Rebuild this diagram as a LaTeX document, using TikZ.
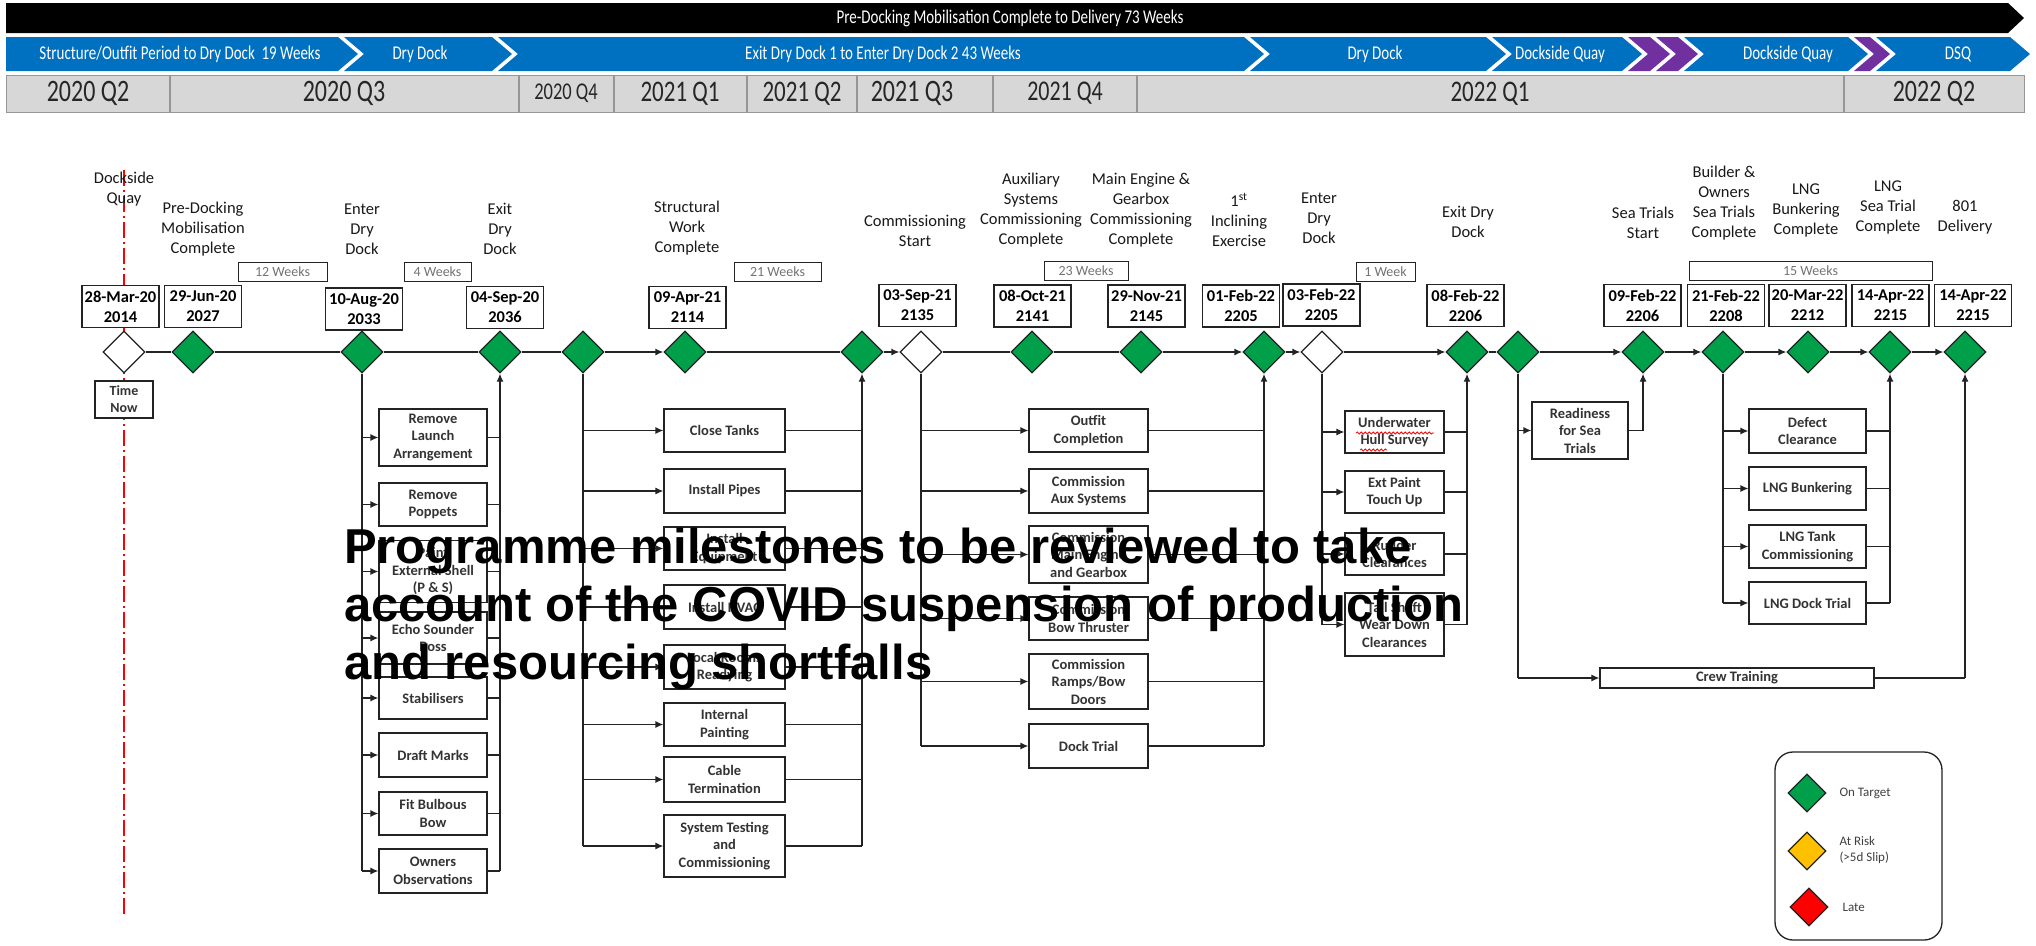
\documentclass[tikz,border=0pt]{standalone}
\usepackage{graphicx}
\usepackage{fontspec}
\setmainfont{Carlito}
\newfontfamily\covfont{Liberation Sans}
\usetikzlibrary{shapes.geometric,arrows.meta,decorations.pathmorphing}
\definecolor{msgreen}{RGB}{0,160,75}
\definecolor{msblue}{RGB}{0,112,192}
\definecolor{mspurple}{RGB}{112,48,160}
\definecolor{msyellow}{RGB}{255,192,0}
\definecolor{msred}{RGB}{255,0,0}
\definecolor{qgray}{RGB}{215,215,215}
\definecolor{qline}{RGB}{150,150,150}
\definecolor{ln}{RGB}{35,35,35}
\newcommand\vst[1]{\scalebox{1}[1.3]{#1}}
\begin{document}
\begin{tikzpicture}[x=1pt,y=-1pt,
  ms/.style={diamond,draw=ln,line width=1.3pt,fill=msgreen,minimum width=42pt,minimum height=42pt,inner sep=0pt},
  msw/.style={ms,fill=white},
  datebox/.style={draw=ln,line width=1.2pt,fill=white,minimum width=77pt,minimum height=42pt,inner sep=1pt,align=center,font=\fontsize{16.5}{20}\selectfont\bfseries},
  wkbox/.style={draw=ln,line width=1pt,fill=white,minimum height=19pt,inner sep=1pt,font=\fontsize{14}{16}\selectfont,text=black!55},
  lbl/.style={align=center,font=\fontsize{16.5}{20}\selectfont,text=black!90},
  task/.style={draw=ln,line width=1.2pt,fill=white,align=center,inner sep=1pt,font=\fontsize{14.5}{17.5}\selectfont\bfseries,text=black!80},
  ga/.style={task,minimum width=108pt},
  gb/.style={task,minimum width=121pt},
  gc/.style={task,minimum width=119pt},
  gd/.style={task,minimum width=99pt},
  ge/.style={task,minimum width=117pt},
  conn/.style={draw=ln,line width=1.3pt},
  arr/.style={conn,-{Latex[length=8pt,width=7pt]}},
  qtxt/.style={text=black!85},
  wtxt/.style={text=white,font=\fontsize{15}{17}\selectfont},
  lgd/.style={diamond,draw=ln,line width=1.3pt,minimum width=38pt,minimum height=38pt,inner sep=0pt},
  lgt/.style={anchor=west,align=left,font=\fontsize{13}{16}\selectfont,text=black!75},
  covid/.style={anchor=base west,inner sep=0pt,font=\covfont\bfseries\fontsize{49}{58}\selectfont,text=black}
]
\useasboundingbox (0,0) rectangle (2036,945);
\fill[white] (0,0) rectangle (2036,945);

% ---- top bars ----
\fill[black] (6,3) -- (2008,3) -- (2024,18) -- (2008,33) -- (6,33) -- cycle;
\node[wtxt] (topbar) at (1010,18) {\vst{Pre-Docking Mobilisation Complete to Delivery 73 Weeks}};

\fill[msblue] (6,37) -- (338,37) -- (358,54) -- (338,71) -- (6,71) -- cycle;
\fill[msblue] (344,37) -- (492,37) -- (512,54) -- (492,71) -- (344,71) -- (364,54) -- cycle;
\fill[msblue] (498,37) -- (1244,37) -- (1264,54) -- (1244,71) -- (498,71) -- (518,54) -- cycle;
\fill[msblue] (1250,37) -- (1486,37) -- (1506,54) -- (1486,71) -- (1250,71) -- (1270,54) -- cycle;
\fill[msblue] (1492,37) -- (1622,37) -- (1642,54) -- (1622,71) -- (1492,71) -- (1512,54) -- cycle;
\fill[mspurple] (1628,37) -- (1650,37) -- (1670,54) -- (1650,71) -- (1628,71) -- (1648,54) -- cycle;
\fill[mspurple] (1656,37) -- (1678,37) -- (1698,54) -- (1678,71) -- (1656,71) -- (1676,54) -- cycle;
\fill[msblue] (1684,37) -- (1848,37) -- (1868,54) -- (1848,71) -- (1684,71) -- (1704,54) -- cycle;
\fill[mspurple] (1854,37) -- (1870,37) -- (1890,54) -- (1870,71) -- (1854,71) -- (1874,54) -- cycle;
\fill[msblue] (1876,37) -- (2010,37) -- (2030,54) -- (2010,71) -- (1876,71) -- (1896,54) -- cycle;
\node[wtxt] (ph1) at (180,54) {\vst{Structure/Outfit Period to Dry Dock\ \ 19 Weeks}};
\node[wtxt] (ph2) at (420,54) {\vst{Dry Dock}};
\node[wtxt] (ph3) at (883,54) {\vst{Exit Dry Dock 1 to Enter Dry Dock 2 43 Weeks}};
\node[wtxt] (ph4) at (1375,54) {\vst{Dry Dock}};
\node[wtxt] (ph5) at (1560,54) {\vst{Dockside Quay}};
\node[wtxt] (ph6) at (1788,54) {\vst{Dockside Quay}};
\node[wtxt] (ph7) at (1958,54) {\vst{DSQ}};

% ---- quarters ----
\draw[qline,fill=qgray,line width=1pt] (6,75) rectangle (2024,112);
\foreach \x in {170,519,614,747,857,993,1137,1844} \draw[qline,line width=1.2pt] (\x,75) -- (\x,112);
\node[qtxt,font=\fontsize{24}{26}\selectfont] (q1) at (88,93.5) {\vst{2020 Q2}};
\node[qtxt,font=\fontsize{24}{26}\selectfont] (q2) at (344,93.5) {\vst{2020 Q3}};
\node[qtxt,font=\fontsize{18.5}{22}\selectfont] (q3) at (566,93.5) {\vst{2020 Q4}};
\node[qtxt,font=\fontsize{23}{26}\selectfont] (q4) at (680,93.5) {\vst{2021 Q1}};
\node[qtxt,font=\fontsize{23}{26}\selectfont] (q5) at (802,93.5) {\vst{2021 Q2}};
\node[qtxt,font=\fontsize{24}{26}\selectfont] (q6) at (912,93.5) {\vst{2021 Q3}};
\node[qtxt,font=\fontsize{22}{26}\selectfont] (q7) at (1065,93.5) {\vst{2021 Q4}};
\node[qtxt,font=\fontsize{23}{26}\selectfont] (q8) at (1490,93.5) {\vst{2022 Q1}};
\node[qtxt,font=\fontsize{24}{26}\selectfont] (q9) at (1934,93.5) {\vst{2022 Q2}};

% ---- time now line ----
\draw[msred,line width=1.6pt,dash pattern=on 16pt off 4pt on 2pt off 4pt] (124,170) -- (124,915);

% ---- milestone labels ----
\node[lbl] (l0) at (124,189) {Dockside\\Quay};
\node[lbl] (l1) at (203,229) {Pre-Docking\\Mobilisation\\Complete};
\node[lbl] (l2) at (362,229) {Enter\\Dry\\Dock};
\node[lbl] (l3) at (500,229) {Exit\\Dry\\Dock};
\node[lbl] (l5) at (687,228) {Structural\\Work\\Complete};
\node[lbl] (l7) at (915,230.5) {Commissioning\\Start};
\node[lbl] (l8) at (1031,210.5) {Auxiliary\\Systems\\Commissioning\\Complete};
\node[lbl] (l9) at (1141,210.5) {Main Engine \&\\Gearbox\\Commissioning\\Complete};
\node[lbl] (l10) at (1239,220) {1\textsuperscript{st}\\Inclining\\Exercise};
\node[lbl] (l11) at (1319,218) {Enter\\Dry\\Dock};
\node[lbl] (l12) at (1468,221.5) {Exit Dry\\Dock};
\node[lbl] (l14) at (1643,223) {Sea Trials\\Start};
\node[lbl] (l15) at (1724,203) {Builder \&\\Owners\\Sea Trials\\Complete};
\node[lbl] (l16) at (1806,210) {LNG\\Bunkering\\Complete};
\node[lbl] (l17) at (1888,207.5) {LNG\\Sea Trial\\Complete};
\node[lbl] (l18) at (1965,217) {801\\Delivery};

% ---- week boxes ----
\node[wkbox,minimum width=89pt] (w1) at (282.5,271.5) {12 Weeks};
\node[wkbox,minimum width=67pt] (w2) at (437.5,271.5) {4 Weeks};
\node[wkbox,minimum width=87pt] (w3) at (777.5,272) {21 Weeks};
\node[wkbox,minimum width=84pt] (w4) at (1086,271) {23 Weeks};
\node[wkbox,minimum width=59pt] (w5) at (1385.5,272) {1 Week};
\node[wkbox,minimum width=243pt] (w6) at (1810.5,271) {15 Weeks};

% ---- date boxes ----
\node[datebox] (b0) at (120.5,306.5) {28-Mar-20\\2014};
\node[datebox] (b1) at (203,306.5) {29-Jun-20\\2027};
\node[datebox] (b2) at (364,309) {10-Aug-20\\2033};
\node[datebox] (b3) at (505,307.5) {04-Sep-20\\2036};
\node[datebox] (b5) at (687.5,307.5) {09-Apr-21\\2114};
\node[datebox] (b7) at (917.5,305.5) {03-Sep-21\\2135};
\node[datebox] (b8) at (1032.5,306) {08-Oct-21\\2141};
\node[datebox] (b9) at (1146.5,306) {29-Nov-21\\2145};
\node[datebox] (b10) at (1241,306) {01-Feb-22\\2205};
\node[datebox] (b11) at (1321.5,305) {03-Feb-22\\2205};
\node[datebox] (b12) at (1465.5,305.5) {08-Feb-22\\2206};
\node[datebox] (b14) at (1642.5,305.5) {09-Feb-22\\2206};
\node[datebox] (b15) at (1726,305.5) {21-Feb-22\\2208};
\node[datebox] (b16) at (1807.5,305.5) {20-Mar-22\\2212};
\node[datebox] (b17) at (1890.5,305.5) {14-Apr-22\\2215};
\node[datebox] (b18) at (1973,305.5) {14-Apr-22\\2215};

% ---- diamonds ----
\node[msw] (d0) at (124,352) {};
\node[ms] (d1) at (193,352) {};
\node[ms] (d2) at (362,352) {};
\node[ms] (d3) at (500,352) {};
\node[ms] (d4) at (583,352) {};
\node[ms] (d5) at (685,352) {};
\node[ms] (d6) at (862,352) {};
\node[msw] (d7) at (921,352) {};
\node[ms] (d8) at (1032,352) {};
\node[ms] (d9) at (1141,352) {};
\node[ms] (d10) at (1264,352) {};
\node[msw] (d11) at (1322,352) {};
\node[ms] (d12) at (1467,352) {};
\node[ms] (d13) at (1518,352) {};
\node[ms] (d14) at (1643,352) {};
\node[ms] (d15) at (1723,352) {};
\node[ms] (d16) at (1808,352) {};
\node[ms] (d17) at (1890,352) {};
\node[ms] (d18) at (1965,352) {};

% main line
\foreach \a/\b in {d0/d1,d1/d2,d2/d3,d3/d4,d5/d6,d7/d8,d8/d9,d12/d13}
  \draw[conn] (\a.east) -- (\b.west);
\foreach \a/\b in {d4/d5,d6/d7,d9/d10,d10/d11,d11/d12,d13/d14,d14/d15,d15/d16,d16/d17,d17/d18}
  \draw[arr] (\a.east) -- (\b.west);

% time now
\node[draw=ln,line width=1.2pt,fill=white,minimum width=58pt,minimum height=37pt,align=center,inner sep=1pt,font=\fontsize{14}{17}\selectfont\bfseries,text=black!80] (tn) at (124,399.5) {Time\\Now};

% ---- group 1 ----
\node[ga,minimum height=57pt] (t1a) at (433,437.5) {Remove\\Launch\\Arrangement};
\node[ga,minimum height=43pt] (t1b) at (433,504.5) {Remove\\Poppets};
\node[ga,minimum height=62pt] (t1c) at (433,571.5) {Paint\\External Shell\\(P \& S)};
\node[ga,minimum height=52pt] (t1d) at (433,638) {Echo Sounder\\Boss};
\node[ga,minimum height=42pt] (t1e) at (433,698) {Stabilisers};
\node[ga,minimum height=44pt] (t1f) at (433,755) {Draft Marks};
\node[ga,minimum height=43pt] (t1g) at (433,813.5) {Fit Bulbous\\Bow};
\node[ga,minimum height=44pt] (t1h) at (433,871) {Owners\\Observations};
\draw[conn] (d2.south) -- (d2.south |- t1h.west);
\foreach \t in {t1a,t1b,t1c,t1d,t1e,t1f,t1g,t1h} {
  \draw[arr] (\t.west -| d2.south) -- (\t.west);
  \draw[conn] (\t.east) -- (\t.east -| d3.south);
}
\draw[arr] (t1h.east -| d3.south) -- (d3.south);

% ---- group 2 ----
\node[gb,minimum height=43pt] (t2a) at (724.5,430.5) {Close Tanks};
\node[gb,minimum height=44pt] (t2b) at (724.5,491) {Install Pipes};
\node[gb,minimum height=43pt] (t2c) at (724.5,548.5) {Install\\Equipment};
\node[gb,minimum height=44pt] (t2d) at (724.5,607) {Install HVAC};
\node[gb,minimum height=44pt] (t2e) at (724.5,667) {Local Rooms\\Readying};
\node[gb,minimum height=43pt] (t2f) at (724.5,724.5) {Internal\\Painting};
\node[gb,minimum height=45pt] (t2g) at (724.5,779.5) {Cable\\Termination};
\node[gb,minimum height=62pt] (t2h) at (724.5,846) {System Testing\\and\\Commissioning};
\draw[conn] (d4.south) -- (d4.south |- t2h.west);
\foreach \t in {t2a,t2b,t2c,t2d,t2e,t2f,t2g,t2h} {
  \draw[arr] (\t.west -| d4.south) -- (\t.west);
  \draw[conn] (\t.east) -- (\t.east -| d6.south);
}
\draw[arr] (t2h.east -| d6.south) -- (d6.south);

% ---- group 3 ----
\node[gc,minimum height=43pt] (t3a) at (1088.5,430.5) {Outfit\\Completion};
\node[gc,minimum height=44pt] (t3b) at (1088.5,491) {Commission\\Aux Systems};
\node[gc,minimum height=57pt] (t3c) at (1088.5,554.5) {Commission\\Main Engine\\and Gearbox};
\node[gc,minimum height=43pt] (t3d) at (1088.5,618.5) {Commission\\Bow Thruster};
\node[gc,minimum height=55pt] (t3e) at (1088.5,681.5) {Commission\\Ramps/Bow\\Doors};
\node[gc,minimum height=44pt] (t3f) at (1088.5,746) {Dock Trial};
\draw[conn] (d7.south) -- (d7.south |- t3f.west);
\foreach \t in {t3a,t3b,t3c,t3d,t3e,t3f} {
  \draw[arr] (\t.west -| d7.south) -- (\t.west);
  \draw[conn] (\t.east) -- (\t.east -| d10.south);
}
\draw[conn] (t3f.east -| d10.south) -- (t3a.east -| d10.south);
\draw[arr,line width=2.4pt] (t3a.east -| d10.south) -- (d10.south);

% ---- group 4 ----
\node[gd,minimum height=42pt] (t4a) at (1394.5,432) {Underwater\\Hull Survey};
\node[gd,minimum height=42pt] (t4b) at (1394.5,492) {Ext Paint\\Touch Up};
\node[gd,minimum height=42pt] (t4c) at (1394.5,554) {Rudder\\Clearances};
\node[gd,minimum height=63pt] (t4d) at (1394.5,624.5) {Tail Shaft\\Wear Down\\Clearances};
\draw[msred,line width=0.8pt,decorate,decoration={snake,amplitude=1.1pt,segment length=4pt}] (1356,433) -- (1434,433);
\draw[msred,line width=0.8pt,decorate,decoration={snake,amplitude=1.1pt,segment length=4pt}] (1360,450) -- (1387,450);
\draw[conn] (d11.south) -- (d11.south |- t4d.west);
\foreach \t in {t4a,t4b,t4c,t4d} {
  \draw[arr] (\t.west -| d11.south) -- (\t.west);
  \draw[conn] (\t.east) -- (\t.east -| d12.south);
}
\draw[conn] (t4d.east -| d12.south) -- (t4a.east -| d12.south);
\draw[arr,line width=2.4pt] (t4a.east -| d12.south) -- (d12.south);

% ---- readiness & crew training ----
\node[task,minimum width=96pt,minimum height=57pt] (rd) at (1580,430.5) {Readiness\\for Sea\\Trials};
\node[task,minimum width=274pt,minimum height=20pt] (ct) at (1737,678) {Crew Training};
\draw[conn] (d13.south) -- (d13.south |- ct.west);
\draw[arr] (d13.south |- rd.west) -- (rd.west);
\draw[arr] (d13.south |- ct.west) -- (ct.west);
\draw[conn] (rd.east) -- (rd.east -| d14.south);
\draw[arr] (rd.east -| d14.south) -- (d14.south);
\draw[conn] (ct.east) -- (ct.east -| d18.south);
\draw[arr] (ct.east -| d18.south) -- (d18.south);

% ---- group 5 ----
\node[ge,minimum height=44pt] (t5a) at (1807.5,431) {Defect\\Clearance};
\node[ge,minimum height=43pt] (t5b) at (1807.5,488.5) {LNG Bunkering};
\node[ge,minimum height=43pt] (t5c) at (1807.5,546.5) {LNG Tank\\Commissioning};
\node[ge,minimum height=42pt] (t5d) at (1807.5,603) {LNG Dock Trial};
\draw[conn] (d15.south) -- (d15.south |- t5d.west);
\foreach \t in {t5a,t5b,t5c,t5d} {
  \draw[arr] (\t.west -| d15.south) -- (\t.west);
  \draw[conn] (\t.east) -- (\t.east -| d17.south);
}
\draw[arr] (t5d.east -| d17.south) -- (d17.south);

% ---- legend ----
\draw[ln,line width=1.3pt,rounded corners=18pt] (1775,752) rectangle (1942,940);
\node[lgd,fill=msgreen] (lg1) at (1807,793) {};
\node[lgt] (lt1) at (1836,793) {On Target};
\node[lgd,fill=msyellow] (lg2) at (1807,851) {};
\node[lgt] (lt2) at (1836,850) {At Risk\\(>5d Slip)};
\node[lgd,fill=msred] (lg3) at (1809,907) {};
\node[lgt] (lt3) at (1839,907) {Late};

% ---- overlay note ----
\node[covid] (cov1) at (344,563) {Programme milestones to be reviewed to take};
\node[covid] (cov2) at (344,621) {account of the COVID suspension of production};
\node[covid] (cov3) at (344,679) {and resourcing shortfalls};
\end{tikzpicture}
\end{document}
